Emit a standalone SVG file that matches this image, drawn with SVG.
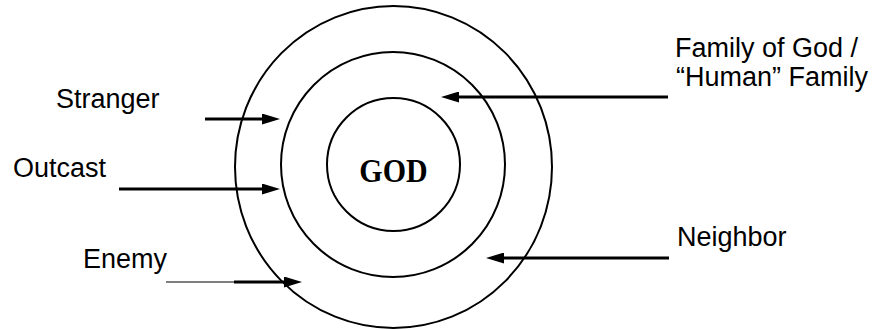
<svg xmlns="http://www.w3.org/2000/svg" width="879" height="330" viewBox="0 0 879 330">
  <style>
    .ring { fill: none; stroke: #000; stroke-width: 2; }
    .lbl { font-family: "Liberation Sans", Arial, sans-serif; font-size: 27px; fill: #000; }
    .god { font-family: "Liberation Serif", "Times New Roman", serif; font-size: 30px; font-weight: bold; fill: #000; }
    .arr { stroke: #000; stroke-width: 3; fill: none; marker-end: url(#head); }
    .thin { stroke: #000; stroke-width: 1.2; fill: none; }
  </style>
  <defs>
    <marker id="head" viewBox="0 0 18 11" refX="6" refY="5.5" markerWidth="18" markerHeight="11" markerUnits="userSpaceOnUse" orient="auto">
      <path d="M0,0 L18,5.5 L0,11 z" fill="#000"/>
    </marker>
  </defs>
  <rect width="879" height="330" fill="#fff"/>

  <g id="outer-ring">
    <ellipse class="ring" cx="393.5" cy="167" rx="158.5" ry="161"/>
  </g>
  <g id="middle-ring">
    <ellipse class="ring" cx="393" cy="164.5" rx="112" ry="112.5"/>
  </g>
  <g id="god">
    <circle class="ring" cx="393.5" cy="164.5" r="66.5"/>
    <text class="god" text-anchor="middle" transform="translate(393.5,182) scale(1,1.12)">GOD</text>
  </g>

  <g id="stranger"><text class="lbl" x="56" y="108">Stranger</text></g>
  <g id="outcast"><text class="lbl" x="13" y="177">Outcast</text></g>
  <g id="enemy"><text class="lbl" x="83" y="268">Enemy</text></g>
  <g id="family">
    <text class="lbl" x="675" y="57">Family of God /</text>
    <text class="lbl" x="676" y="86">“Human” Family</text>
  </g>
  <g id="neighbor"><text class="lbl" x="677" y="246">Neighbor</text></g>

  <g id="connectors">
    <line class="arr" x1="205" y1="119" x2="268" y2="119"/>
    <line class="arr" x1="119" y1="189" x2="268" y2="189"/>
    <line class="thin" x1="166" y1="282" x2="234" y2="282"/>
    <line class="arr" x1="234" y1="282" x2="290" y2="282"/>
    <line class="arr" x1="668" y1="97" x2="453" y2="97"/>
    <line class="arr" x1="669" y1="258" x2="498" y2="258"/>
  </g>
</svg>
